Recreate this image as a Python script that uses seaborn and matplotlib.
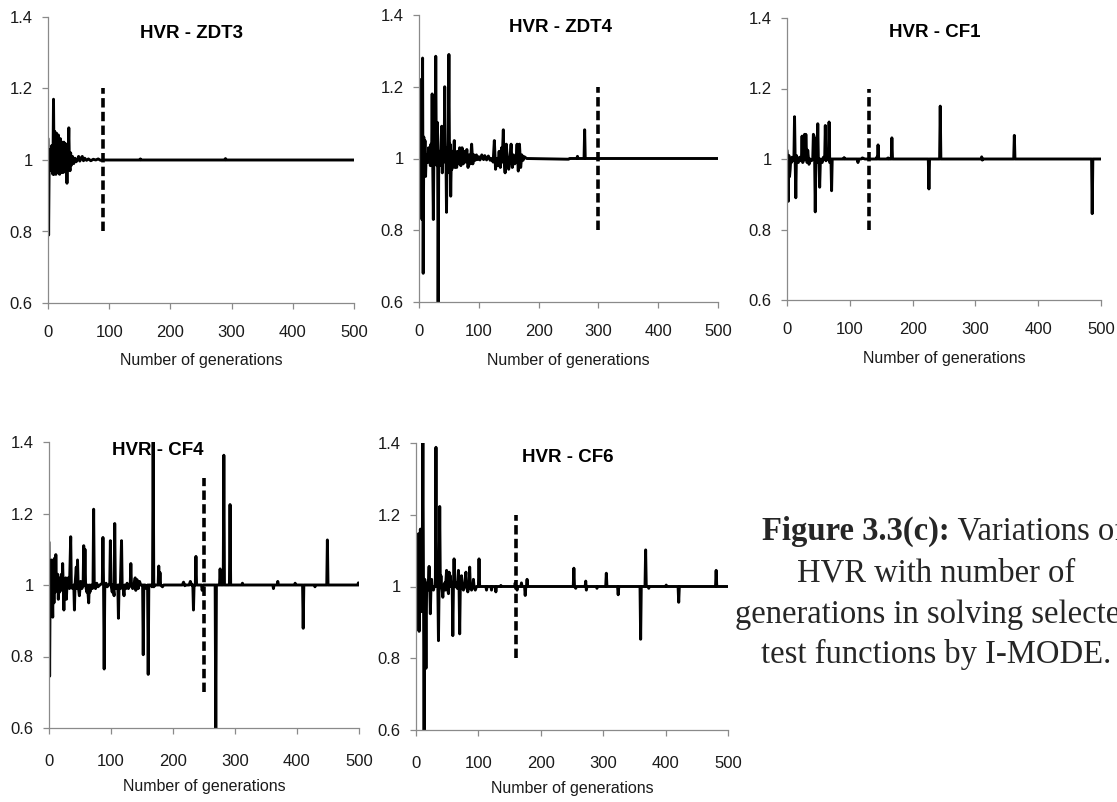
import matplotlib
matplotlib.use("Agg")
import matplotlib.pyplot as plt
import seaborn as sns
import pandas as pd
from matplotlib import font_manager
from matplotlib.transforms import Bbox

# ---------------- data ----------------
panel_titles = ["HVR - ZDT3", "HVR - ZDT4", "HVR - CF1", "HVR - CF4", "HVR - CF6"]
x_label = "Number of generations"
x_ticks = [0, 100, 200, 300, 400, 500]
y_ticks = [0.6, 0.8, 1.0, 1.2, 1.4]
y_tick_labels = ["0.6", "0.8", "1", "1.2", "1.4"]

zdt3_gen = [0, 1, 2, 3, 4, 5, 6, 7, 8, 9, 10, 11, 12, 13, 14, 15, 16, 17, 18, 19,
            20, 21, 22, 23, 24, 25, 26, 27, 28, 29, 30, 31, 32, 33, 34, 35, 36, 37, 38, 40,
            42, 44, 46, 48, 50, 52, 54, 56, 58, 60, 63, 66, 70, 74, 78, 82, 86, 90, 150, 151,
            152, 289, 290, 291, 500]
zdt3_hvr = [1.06, 0.79, 1.02, 0.99, 1.03, 0.97, 1.04, 0.98, 0.96, 1.17, 0.96, 1.08, 0.97, 0.96, 1.075, 0.98, 0.965, 1.07, 0.99, 0.96,
            1.06, 0.98, 0.965, 1.05, 0.99, 0.965, 1.05, 0.99, 0.975, 1.045, 1.0, 0.935, 1.0, 1.02, 1.09, 0.99, 0.97, 1.02, 0.985, 1.01,
            0.99, 1.005, 0.995, 1.0, 1.01, 0.997, 1.005, 1.01, 0.998, 1.005, 0.999, 1.003, 0.998, 1.002, 1.0, 1.003, 0.999, 1.0, 1.0, 1.003,
            1.0, 1.0, 1.004, 1.0, 1.0]

zdt4_gen = [0, 1, 2, 3, 4, 5, 6, 7, 8, 9, 10, 11, 12, 13, 14, 15, 16, 17, 18, 19,
            20, 21, 22, 23, 24, 25, 26, 27, 28, 29, 30, 31, 32, 33, 34, 35, 36, 38, 39, 40,
            41, 42, 43, 44, 45, 46, 47, 48, 49, 50, 51, 52, 53, 54, 55, 56, 57, 59, 60, 62,
            63, 64, 66, 68, 70, 72, 74, 76, 78, 80, 82, 84, 86, 88, 90, 92, 94, 96, 98, 100,
            102, 105, 108, 110, 113, 116, 119, 121, 124, 126, 128, 130, 132, 134, 136, 138, 139, 141, 142, 144,
            146, 148, 150, 152, 154, 156, 158, 160, 162, 164, 166, 168, 170, 172, 174, 176, 180, 250, 252, 264,
            265, 266, 276, 277, 278, 300, 500]
zdt4_hvr = [1.22, 1.15, 1.22, 0.97, 1.1, 0.83, 1.28, 0.68, 1.06, 0.98, 1.05, 0.95, 1.01, 0.99, 1.01, 0.99, 1.03, 0.99, 1.01, 0.98,
            1.04, 0.99, 1.18, 0.98, 0.83, 1.03, 1.12, 0.99, 1.285, 1.0, 0.98, 1.1, 0.6, 1.0, 1.02, 0.98, 1.01, 1.09, 0.96, 1.05,
            0.99, 1.0, 1.2, 0.99, 1.02, 0.85, 1.03, 0.96, 1.05, 1.29, 0.99, 1.04, 0.895, 1.0, 0.97, 1.02, 0.98, 1.05, 0.975, 1.01,
            0.975, 1.02, 0.985, 1.03, 0.98, 1.03, 0.985, 1.02, 0.99, 1.025, 0.975, 1.01, 0.985, 1.04, 0.985, 1.01, 0.995, 1.01, 0.997, 1.005,
            0.996, 1.01, 0.997, 1.008, 0.996, 1.007, 0.995, 1.0, 0.99, 1.05, 0.97, 1.0, 0.98, 1.02, 0.975, 1.03, 0.99, 1.08, 1.0, 0.96,
            1.04, 0.99, 0.97, 1.0, 1.04, 0.975, 1.01, 0.985, 0.99, 1.04, 0.965, 1.04, 0.975, 1.01, 0.995, 1.005, 1.0, 0.998, 1.0, 1.0,
            1.006, 1.0, 1.0, 1.08, 1.0, 1.0, 1.0]

cf1_gen = [0, 1, 2, 3, 4, 5, 6, 7, 8, 10, 11, 12, 13, 14, 15, 16, 18, 20, 22, 23,
           24, 25, 27, 28, 29, 30, 31, 32, 33, 35, 37, 39, 41, 42, 43, 44, 45, 46, 47, 48,
           49, 50, 51, 52, 53, 54, 56, 58, 60, 61, 62, 64, 66, 67, 68, 70, 71, 72, 90, 91,
           92, 112, 113, 114, 118, 120, 124, 142, 143, 144, 145, 146, 160, 161, 162, 166, 167, 168, 225, 226,
           227, 243, 244, 245, 309, 310, 311, 312, 361, 362, 363, 485, 486, 487, 500]
cf1_hvr = [1.025, 1.0, 0.88, 1.01, 0.95, 0.97, 1.0, 0.99, 1.005, 0.995, 1.0, 1.12, 1.0, 0.89, 1.01, 1.0, 0.99, 1.005, 0.995, 1.0,
           1.065, 0.99, 1.0, 1.07, 1.0, 1.07, 1.02, 0.99, 1.025, 0.985, 1.0, 0.995, 1.0, 1.07, 1.065, 1.0, 0.85, 1.0, 1.06, 1.0,
           1.1, 0.99, 1.0, 0.92, 0.985, 1.0, 0.99, 1.005, 1.0, 1.095, 0.995, 1.0, 1.0, 1.105, 0.99, 1.0, 0.91, 1.0, 1.0, 1.004,
           1.0, 1.0, 0.99, 1.0, 1.0, 1.003, 1.0, 1.0, 1.005, 1.0, 1.04, 1.0, 1.0, 1.003, 1.0, 1.0, 1.06, 1.0, 1.0, 0.915,
           1.0, 1.0, 1.15, 1.0, 1.0, 1.006, 0.997, 1.0, 1.0, 1.067, 1.0, 1.0, 0.845, 1.0, 1.0]

cf4_gen = [0, 1, 2, 3, 4, 5, 6, 7, 8, 9, 10, 11, 12, 13, 14, 15, 16, 17, 18, 19,
           20, 21, 22, 23, 24, 25, 26, 27, 28, 29, 31, 33, 35, 36, 38, 40, 41, 42, 44, 45,
           46, 47, 49, 51, 53, 55, 56, 57, 58, 59, 61, 62, 64, 65, 66, 68, 70, 71, 72, 73,
           75, 77, 79, 82, 86, 87, 88, 89, 90, 92, 94, 96, 98, 99, 100, 102, 103, 105, 106, 107,
           109, 111, 112, 113, 115, 117, 118, 120, 121, 122, 124, 126, 128, 131, 132, 133, 135, 137, 139, 140,
           142, 144, 146, 148, 151, 152, 153, 155, 157, 159, 160, 161, 165, 166, 167, 168, 169, 171, 176, 177,
           178, 179, 180, 183, 185, 215, 217, 219, 221, 226, 228, 230, 232, 233, 234, 236, 237, 238, 246, 247,
           249, 268, 269, 270, 275, 276, 277, 281, 282, 283, 291, 292, 293, 311, 312, 313, 361, 362, 363, 368,
           369, 370, 396, 397, 398, 409, 410, 411, 428, 429, 430, 448, 449, 450, 498, 499, 500]
cf4_hvr = [1.12, 0.745, 1.06, 0.97, 1.07, 1.0, 0.91, 1.07, 0.95, 1.075, 0.98, 1.085, 1.0, 0.99, 1.03, 0.96, 1.02, 0.98, 1.01, 0.99,
           1.03, 0.985, 1.06, 1.0, 0.93, 1.01, 0.97, 1.02, 0.96, 1.0, 1.02, 0.99, 1.135, 1.0, 0.99, 1.0, 0.93, 1.0, 1.05, 0.99,
           1.07, 1.0, 0.97, 1.01, 0.99, 1.0, 1.11, 1.0, 1.1, 1.0, 0.98, 1.0, 0.95, 1.0, 0.98, 1.0, 0.99, 1.0, 1.212, 1.0,
           0.99, 1.005, 0.995, 1.0, 1.005, 1.133, 1.0, 0.765, 1.0, 1.005, 0.995, 1.0, 1.005, 1.124, 1.0, 0.98, 1.0, 0.97, 1.172, 1.0,
           0.99, 1.0, 0.907, 1.0, 0.99, 1.124, 1.0, 0.985, 0.97, 1.0, 0.99, 1.005, 0.99, 1.0, 1.06, 1.0, 0.99, 1.0, 1.02, 0.985,
           1.015, 0.99, 1.01, 1.0, 1.0, 0.805, 1.0, 1.0, 0.99, 1.0, 0.75, 1.0, 1.0, 0.995, 1.0, 1.42, 0.995, 1.0, 1.0, 1.053,
           1.0, 1.035, 1.0, 0.995, 1.0, 1.0, 1.008, 0.998, 1.0, 1.0, 1.01, 1.0, 1.0, 0.93, 1.0, 1.0, 1.08, 1.0, 1.0, 0.985,
           1.0, 1.0, 0.58, 1.0, 1.0, 1.045, 1.0, 1.0, 1.363, 1.0, 1.0, 1.225, 1.0, 1.0, 1.005, 1.0, 1.0, 0.99, 1.0, 1.0,
           1.01, 1.0, 1.0, 1.005, 1.0, 1.0, 0.879, 1.0, 1.0, 0.995, 1.0, 1.0, 1.126, 1.0, 1.0, 1.006, 1.0]

cf6_gen = [0, 1, 2, 3, 4, 5, 6, 7, 8, 9, 10, 11, 12, 13, 14, 15, 16, 17, 18, 19,
           20, 21, 22, 23, 24, 25, 26, 27, 28, 29, 31, 32, 33, 34, 35, 36, 37, 38, 39, 40,
           41, 42, 43, 44, 46, 47, 49, 50, 51, 52, 53, 54, 55, 56, 58, 59, 60, 61, 62, 64,
           66, 68, 69, 70, 71, 73, 74, 76, 78, 80, 81, 83, 85, 86, 87, 89, 91, 92, 93, 95,
           97, 100, 101, 102, 104, 112, 113, 114, 120, 121, 122, 127, 128, 129, 135, 136, 137, 158, 159, 160,
           162, 163, 168, 169, 170, 174, 175, 176, 177, 178, 179, 185, 252, 253, 254, 256, 257, 271, 272, 273,
           274, 289, 290, 291, 304, 305, 306, 323, 324, 325, 359, 360, 361, 367, 368, 369, 372, 373, 374, 400,
           401, 402, 420, 421, 422, 480, 481, 482, 500]
cf6_hvr = [1.0, 1.07, 0.88, 1.1, 1.147, 0.875, 1.05, 1.16, 0.95, 0.93, 1.05, 1.42, 1.0, 0.58, 1.02, 0.98, 0.772, 1.0, 1.01, 0.99,
           1.02, 1.056, 1.0, 0.924, 1.0, 1.02, 0.995, 1.0, 0.99, 1.0, 1.0, 1.388, 1.0, 1.03, 1.0, 0.849, 1.0, 1.223, 1.0, 1.03,
           1.0, 0.99, 0.97, 1.0, 1.01, 0.99, 1.045, 1.0, 0.99, 0.98, 1.04, 1.0, 1.03, 1.0, 1.0, 0.863, 1.0, 1.077, 1.0, 1.01,
           0.995, 1.045, 1.0, 0.868, 1.0, 1.03, 1.0, 0.99, 1.005, 1.04, 1.0, 0.985, 1.0, 1.054, 1.0, 0.99, 1.0, 1.02, 1.0, 0.99,
           1.0, 1.0, 1.077, 1.0, 1.0, 1.0, 0.99, 1.0, 1.0, 0.99, 1.0, 1.0, 0.985, 1.0, 1.0, 1.003, 1.0, 1.0, 1.01, 1.0,
           0.99, 1.0, 1.0, 1.01, 1.0, 1.0, 0.975, 1.0, 1.0, 1.02, 1.0, 1.0, 1.0, 1.051, 1.0, 0.995, 1.0, 1.0, 1.015, 0.99,
           1.0, 1.0, 0.995, 1.0, 1.0, 1.037, 1.0, 1.0, 0.977, 1.0, 1.0, 0.853, 1.0, 1.0, 1.102, 1.0, 1.0, 0.995, 1.0, 1.0,
           1.004, 1.0, 1.0, 0.956, 1.0, 1.0, 1.045, 1.0, 1.0]

# dashed marker lines: generation, lower and upper HVR value
marker_gen = [90, 300, 130, 250, 160]
marker_low = [0.8, 0.8, 0.8, 0.7, 0.8]
marker_high = [1.2, 1.2, 1.2, 1.3, 1.2]

caption_bold = "Figure 3.3(c):"
caption_rest = " Variations of"
caption_lines = ["HVR with number of", "generations in solving selected", "test functions by I-MODE."]

series_gen = [zdt3_gen, zdt4_gen, cf1_gen, cf4_gen, cf6_gen]
series_hvr = [zdt3_hvr, zdt4_hvr, cf1_hvr, cf4_hvr, cf6_hvr]

# ---------------- style / layout ----------------
sns.set_style("ticks")
avail = {f.name for f in font_manager.fontManager.ttflist}
sans = "Liberation Sans Narrow" if "Liberation Sans Narrow" in avail else "Liberation Sans"
serif = "Liberation Serif" if "Liberation Serif" in avail else "DejaVu Serif"
plt.rcParams["font.family"] = [sans, "DejaVu Sans"]

W, H = 1117, 802
fig = plt.figure(figsize=(W / 100, H / 100), dpi=100)

# axes boxes in pixels: left, right, top, bottom
boxes = [(48, 354, 17, 303), (419, 718, 15, 302), (787, 1101, 18, 300),
         (49, 359, 442, 728), (416, 728, 443, 730)]
title_pos = [(0.47, 0.944), (0.474, 0.955), (0.47, 0.947), (0.35, 0.972), (0.487, 0.948)]
xpad = [12, 12, 12, 14.5, 14.5]
label_off = [58, 58, 58, 59, 58]
label_clip = [368, 368, 368, None, None]

tick_size = 12
label_size = 11.5
title_size = 13.5

spine_col = "#8a8a8a"
for i in range(5):
    l, r, t, b = boxes[i]
    ax = fig.add_axes([l / W, 1 - b / H, (r - l) / W, (b - t) / H])
    assert len(series_gen[i]) == len(series_hvr[i])
    df = pd.DataFrame({"gen": series_gen[i], "hvr": series_hvr[i]})
    sns.lineplot(data=df, x="gen", y="hvr", ax=ax, color="black", lw=2.1,
                 estimator=None, sort=False)
    ax.plot([marker_gen[i], marker_gen[i]], [marker_low[i], marker_high[i]],
            color="black", lw=2.6, ls=(0, (2.6, 1.2)))
    ax.set_xlim(0, 500)
    ax.set_ylim(0.6, 1.4)
    ax.set_xticks(x_ticks)
    ax.set_yticks(y_ticks)
    ax.set_yticklabels(y_tick_labels)
    ax.set_xlabel("")
    ax.set_ylabel("")
    sns.despine(ax=ax)
    for s in ("left", "bottom"):
        ax.spines[s].set_color(spine_col)
        ax.spines[s].set_linewidth(0.9)
    ax.tick_params(axis="both", direction="out", length=4, width=0.9, color=spine_col,
                   labelsize=tick_size, labelcolor="#1a1a1a")
    ax.tick_params(axis="x", pad=xpad[i])
    ax.tick_params(axis="y", pad=7)
    ax.text(title_pos[i][0], title_pos[i][1], panel_titles[i], transform=ax.transAxes,
            ha="center", va="center", fontsize=title_size, fontweight="bold", color="black")
    lt = fig.text((l + r) / 2 / W, 1 - (b + label_off[i]) / H, x_label, ha="center",
                  va="center", fontsize=label_size, color="#1a1a1a")
    if label_clip[i] is not None:
        lt.set_clip_box(Bbox.from_extents(0, H - label_clip[i], W, H))
        lt.set_clip_on(True)

# caption (lines 1 and 3 run past the right edge, as in the reference)
renderer = fig.canvas.get_renderer()
cap_size = 23.5
cap_fam = [serif, "DejaVu Serif"]
cap_x = 936
t1 = fig.text(762 / W, 1 - 540 / H, caption_bold, ha="left", va="baseline",
              fontsize=cap_size, fontweight="bold", family=cap_fam)
bb = t1.get_window_extent(renderer)
fig.text(bb.x1 / W, 1 - 540 / H, caption_rest, ha="left", va="baseline",
         fontsize=cap_size, family=cap_fam)
for line, yb in zip(caption_lines, [582, 623, 663]):
    fig.text(cap_x / W, 1 - yb / H, line, ha="center", va="baseline",
             fontsize=cap_size, family=cap_fam)

fig.savefig("out.png", dpi=100)
